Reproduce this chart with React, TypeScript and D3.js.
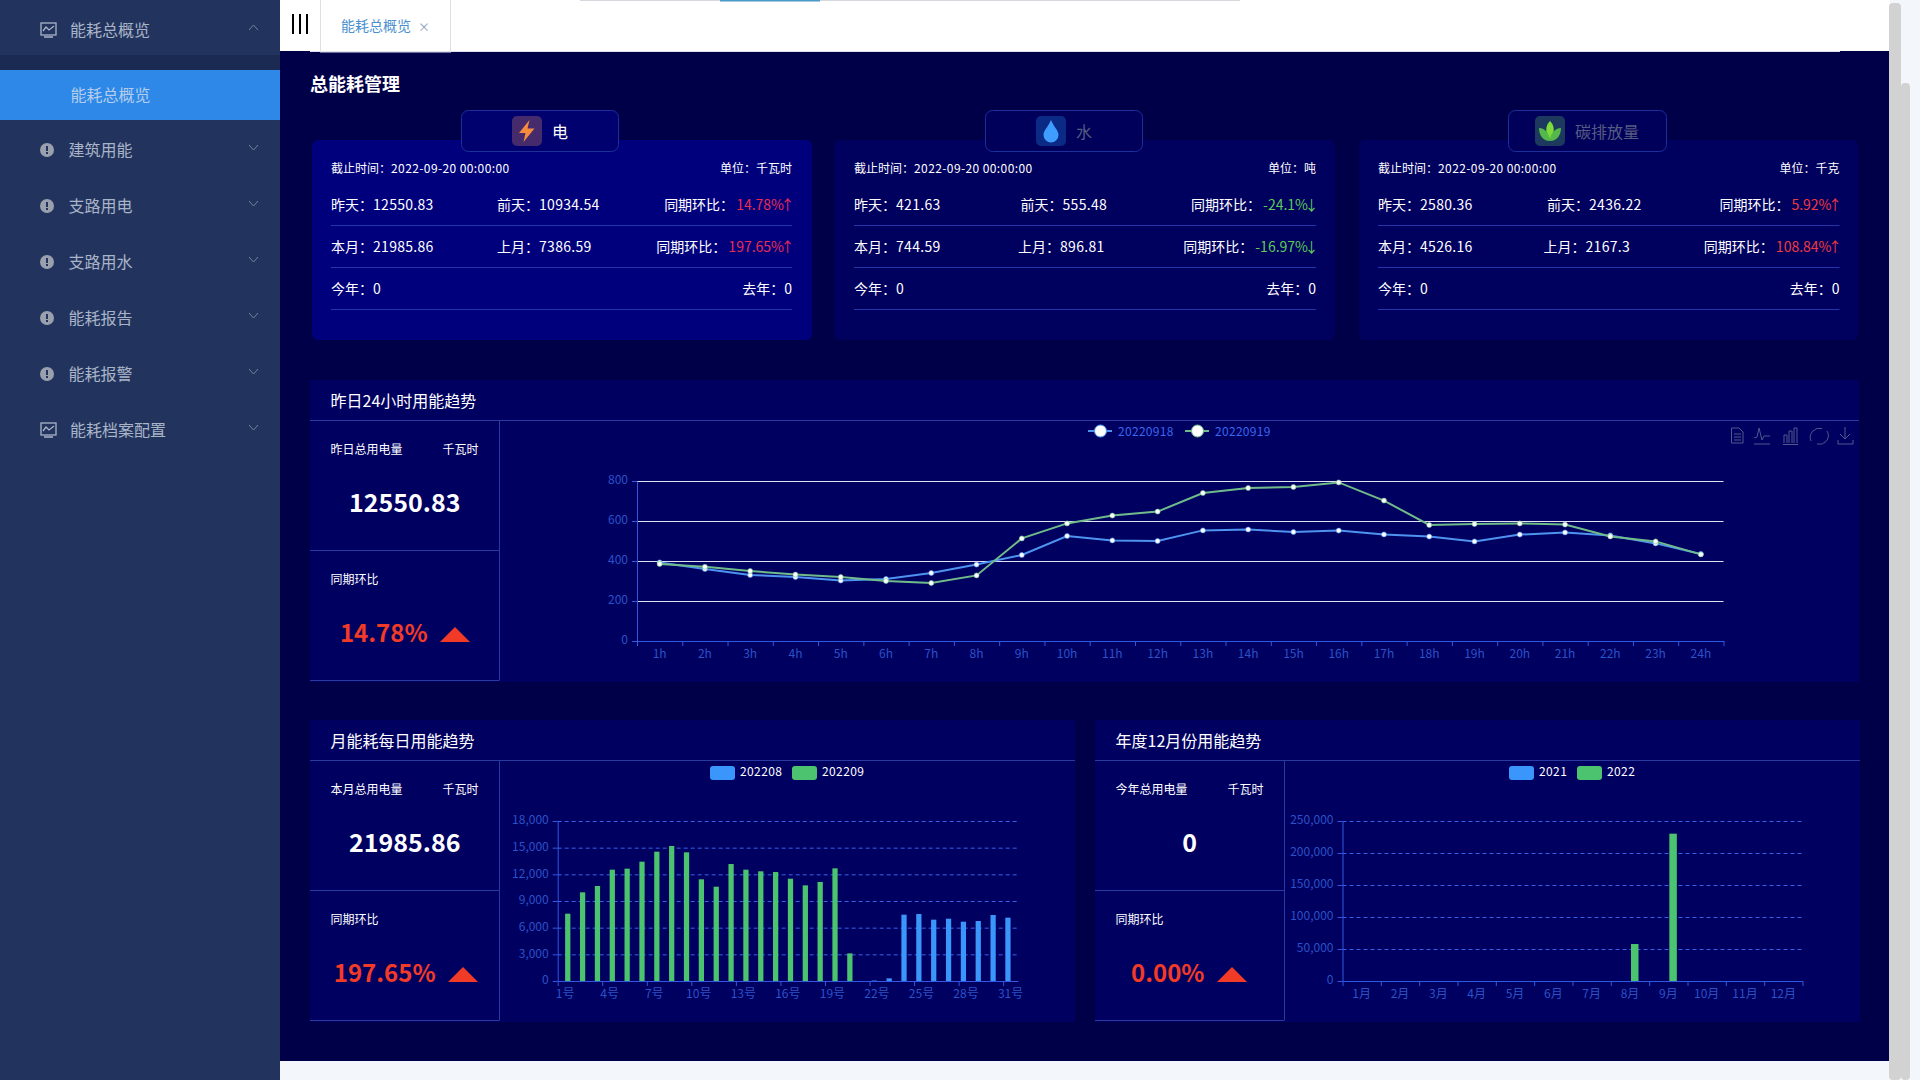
import React, { useEffect, useRef } from "react";
import * as d3 from "d3";

// sidebar
const menuItems = ["建筑用能", "支路用电", "支路用水", "能耗报告", "能耗报警"];

// top cards
const cardNames = ["电", "水", "碳排放量"];
const cardUnits = ["千瓦时", "吨", "千克"];
const deadline = "2022-09-20 00:00:00";
const yesterdayVals = ["12550.83", "421.63", "2580.36"];
const beforeVals = ["10934.54", "555.48", "2436.22"];
const dayRatios = ["14.78%", "-24.1%", "5.92%"];
const monthVals = ["21985.86", "744.59", "4526.16"];
const lastMonthVals = ["7386.59", "896.81", "2167.3"];
const monthRatios = ["197.65%", "-16.97%", "108.84%"];
const yearVals = ["0", "0", "0"];
const lastYearVals = ["0", "0", "0"];

// 24h line chart
const hours = ["1h","2h","3h","4h","5h","6h","7h","8h","9h","10h","11h","12h","13h","14h","15h","16h","17h","18h","19h","20h","21h","22h","23h","24h"];
const series0918 = [393,360,330,320,302,310,340,382,430,525,503,500,553,557,545,552,533,522,498,532,543,528,488,435];
const series0919 = [385,371,350,332,320,300,290,328,513,588,627,647,740,765,770,793,702,580,585,588,582,523,498,433];
const lineTicks = [0, 200, 400, 600, 800];

// monthly bars
const days = d3.range(1, 32).map((d) => `${d}号`);
const month202208 = [0,0,0,0,0,0,0,0,0,0,0,0,0,0,0,0,0,0,0,0,0,50,300,7460,7537,6900,7010,6675,6750,7425,7125];
const month202209 = [7575,9975,10690,12525,12640,13425,14550,15190,14475,11440,10610,13160,12525,12340,12260,11510,10760,11140,12675,3110,0,0,0,0,0,0,0,0,0,0,0];
const monthTicks = [0, 3000, 6000, 9000, 12000, 15000, 18000];

// yearly bars
const months = ["1月","2月","3月","4月","5月","6月","7月","8月","9月","10月","11月","12月"];
const year2021 = [0,0,0,0,0,0,0,0,0,0,0,0];
const year2022 = [0,0,0,0,0,0,0,57800,230200,0,0,0];
const yearTicks = [0, 50000, 100000, 150000, 200000, 250000];

const BLUE = "#3a96fa";
const GREEN = "#4cc46f";
const AXIS = "#3158e0";
const LABEL = "#2c52c8";
const RULE = "#2a3a9e";
const RED = "#f23b26";

const Txt = ({ x, y, size = 12, fill = "#fff", anchor = "start", weight = 400, ls = 0, children }: any) => (
  <text x={x} y={y - 1} fontSize={size} fill={fill} textAnchor={anchor} fontWeight={weight} letterSpacing={ls} dominantBaseline="central">
    {children}
  </text>
);

// draws left axis + bottom axis, ticks on the band edges like echarts does
function drawAxes(g: SVGGElement, x: d3.ScaleBand<string>, y: d3.ScaleLinear<number, number>, yTicks: number[], step: number, fmt: (n: number) => string) {
  const root = d3.select(g);
  root.selectAll("*").remove();
  const [x0, x1] = x.range();
  const [y0] = y.range();
  const n = x.domain().length;

  const yAxis = root.append("g").attr("transform", `translate(${x0},0)`)
    .call(d3.axisLeft(y).tickValues(yTicks).tickFormat((d) => fmt(d as number)).tickSize(5).tickPadding(4).tickSizeOuter(0));
  const edges = d3.scaleLinear().domain([0, n]).range([x0, x1]);
  const tickAxis = root.append("g").attr("transform", `translate(0,${y0})`)
    .call(d3.axisBottom(edges).tickValues(d3.range(0, n + (step === 1 ? 1 : 0), step)).tickFormat(() => "").tickSize(5).tickSizeOuter(0));
  const labels = root.append("g").attr("transform", `translate(0,${y0})`)
    .call(d3.axisBottom(x).tickValues(x.domain().filter((_, i) => i % step === 0)).tickSize(0).tickPadding(8));
  labels.select(".domain").remove();

  [yAxis, tickAxis].forEach((a) => {
    a.selectAll("path,line").attr("stroke", AXIS).attr("fill", "none");
  });
  root.selectAll("text").attr("fill", LABEL).attr("font-size", 12).attr("font-family", "'Noto Sans CJK SC'");
  yAxis.selectAll("text").attr("dy", "0.24em");
}

function LineChart() {
  const ref = useRef<SVGGElement>(null);
  const x = d3.scaleBand().domain(hours).range([637, 1723.5]);
  const y = d3.scaleLinear().domain([0, 800]).range([641, 481]);
  const cx = (h: string) => (x(h) as number) + x.bandwidth() / 2;

  useEffect(() => {
    if (ref.current) drawAxes(ref.current, x, y, lineTicks, 1, String);
  }, []);

  const gen = d3.line<number>().x((_, i) => cx(hours[i])).y((d) => y(d));
  const sets = [
    { name: "20220918", data: series0918, color: "#4f93f0", lx: 1100, tx: 1118 },
    { name: "20220919", data: series0919, color: "#6fbc8a", lx: 1197, tx: 1215 },
  ];
  return (
    <g>
      {lineTicks.slice(1).map((t) => (
        <line key={t} x1={637} x2={1723.5} y1={y(t) + 0.5} y2={y(t) + 0.5} stroke="#e0e0f0" strokeWidth={1} />
      ))}
      <g ref={ref} />
      {sets.map((s) => (
        <g key={s.name}>
          <path d={gen(s.data) as string} fill="none" stroke={s.color} strokeWidth={2} />
          {s.data.map((d, i) => (
            <circle key={i} cx={cx(hours[i])} cy={y(d)} r={2.5} fill="#fff" stroke={s.color} strokeWidth={0.6} />
          ))}
          <line x1={s.lx - 12} x2={s.lx + 12} y1={431} y2={431} stroke={s.color} strokeWidth={2} />
          <circle cx={s.lx + 0.5} cy={431} r={6} fill="#fff" stroke={s.color} strokeWidth={1} />
          <Txt x={s.tx} y={431} fill="#3a68ee" ls={0.3}>{s.name}</Txt>
        </g>
      ))}
    </g>
  );
}

function BarChart({ cats, a, b, ticks, left, right, step, barW, gap, names, legendX }: any) {
  const ref = useRef<SVGGElement>(null);
  const x = d3.scaleBand().domain(cats as string[]).range([left, right]);
  const y = d3.scaleLinear().domain([0, ticks[ticks.length - 1]]).range([981, 821]);

  useEffect(() => {
    if (ref.current) drawAxes(ref.current, x, y, ticks, step, d3.format(","));
  }, []);

  const mid = (c: string) => (x(c) as number) + x.bandwidth() / 2;
  return (
    <g>
      {ticks.slice(1).map((t: number) => (
        <line key={t} x1={left} x2={right} y1={y(t) + 0.5} y2={y(t) + 0.5} stroke="#3a5fe8" strokeDasharray="4 3" />
      ))}
      {a.map((v: number, i: number) => (
        <rect key={i} x={mid(cats[i]) - gap / 2 - barW} y={y(v)} width={barW} height={981 - y(v)} fill={BLUE} />
      ))}
      {b.map((v: number, i: number) => (
        <rect key={i} x={mid(cats[i]) + gap / 2} y={y(v)} width={barW} height={981 - y(v)} fill={GREEN} />
      ))}
      <g ref={ref} />
      {names.map((n: string, i: number) => (
        <g key={n}>
          <rect x={legendX[i]} y={766} width={25} height={14} rx={3} fill={i === 0 ? BLUE : GREEN} />
          <Txt x={legendX[i] + 30} y={771} ls={0.4}>{n}</Txt>
        </g>
      ))}
    </g>
  );
}

// panel frame with the left stat column
function Panel({ x, y, w, divider, title, statLabel, value, ratio, triX }: any) {
  const statMid = (x + divider) / 2;
  return (
    <g>
      <rect x={x} y={y} width={w} height={302} fill="#000060" rx={2} />
      <Txt x={x + 20.5} y={y + 21} size={16}>{title}</Txt>
      <line x1={x} x2={x + w} y1={y + 40.5} y2={y + 40.5} stroke={RULE} />
      <line x1={divider} x2={divider} y1={y + 40} y2={y + 300} stroke={RULE} />
      <line x1={x} x2={divider} y1={y + 170.5} y2={y + 170.5} stroke={RULE} />
      <line x1={x} x2={divider} y1={y + 300.5} y2={y + 300.5} stroke={RULE} />
      <Txt x={x + 20.5} y={y + 69}>{statLabel}</Txt>
      <Txt x={divider - 21} y={y + 69} anchor="end">千瓦时</Txt>
      <Txt x={statMid} y={y + 122} size={25} weight={700} anchor="middle">{value}</Txt>
      <Txt x={x + 20.5} y={y + 199}>同期环比</Txt>
      <Txt x={triX - 12.5} y={y + 252} size={24} weight={700} fill={RED} anchor="end">{ratio}</Txt>
      <path d={`M${triX},${y + 262} L${triX + 15},${y + 247} L${triX + 30},${y + 262} Z`} fill={RED} />
    </g>
  );
}

function CardIcon({ kind, x }: { kind: number; x: number }) {
  const bg = ["#452a6c", "#0b2a86", "#1d3a5e"][kind];
  return (
    <g transform={`translate(${x},116)`}>
      <rect width={30} height={30} rx={5} fill={bg} />
      {kind === 0 && <path d="M17.5,4 L7,17 L13.5,17 L11.5,26 L22.5,12.5 L15.5,12.5 Z" fill="#f58b3c" />}
      {kind === 1 && <path d="M15,4 C18,11 22.5,14.5 22.5,19 A7.5,7.5 0 0 1 7.5,19 C7.5,14.5 12,11 15,4 Z" fill="#3f9dff" />}
      {kind === 2 && (
        <g>
          <path d="M15,5 C20,10 20,17 15,24 C10,17 10,10 15,5 Z" fill="#7ddc3a" />
          <path d="M4,12 C10,12 15,18 15,25 C8,25 4,19 4,12 Z M26,12 C20,12 15,18 15,25 C22,25 26,19 26,12 Z" fill="#55b84a" />
        </g>
      )}
    </g>
  );
}

function Card({ i }: { i: number }) {
  const x = [312, 834, 1359][i];
  const w = [500, 501, 499][i];
  const tl = [331, 854, 1378][i];
  const tr = [792, 1316, 1839.5][i];
  const mid1 = [497, 1020.5, 1547][i];
  const mid2 = [497, 1018, 1543.5][i];
  const tabX = [461, 985, 1508][i];
  const tabW = [157, 157, 158][i];
  const iconX = [512, 1036, 1535][i];
  const up = !dayRatios[i].startsWith("-");
  const ratioColor = up ? (i === 0 ? "#ea2c52" : "#f03a40") : "#5ecb58";
  const Row = ({ y, l1, v1, l2, v2, ratio }: any) => (
    <g>
      <Txt x={tl} y={y} size={14}>{l1}：<tspan letterSpacing={0.3}>{v1}</tspan></Txt>
      <Txt x={y === 205 ? mid1 : mid2} y={y} size={14}>{l2}：<tspan letterSpacing={0.3}>{v2}</tspan></Txt>
      <text x={tr + 2.5} y={y - 1} fontSize={14} fill="#fff" textAnchor="end" dominantBaseline="central">
        同期环比：<tspan fill={ratioColor} dx={2}>{ratio}<tspan dx={-3.5}>{up ? "↑" : "↓"}</tspan></tspan>
      </text>
    </g>
  );
  return (
    <g>
      <rect x={x} y={140} width={w} height={200} rx={6} fill={i === 0 ? "#00007c" : "#00005e"} />
      <rect x={tabX + 0.5} y={110.5} width={tabW} height={41} rx={7} fill={i === 0 ? "#00006e" : "#00005a"} stroke="#1c2f9a" />
      <CardIcon kind={i} x={iconX} />
      <Txt x={iconX + 40} y={132} size={16} fill={i === 0 ? "#fff" : "#565c82"}>{cardNames[i]}</Txt>
      <Txt x={tl} y={168}>截止时间：<tspan letterSpacing={0.4}>{deadline}</tspan></Txt>
      <Txt x={tr} y={168} anchor="end">单位：{cardUnits[i]}</Txt>
      <Row y={205} l1="昨天" v1={yesterdayVals[i]} l2="前天" v2={beforeVals[i]} ratio={dayRatios[i]} />
      <Row y={247} l1="本月" v1={monthVals[i]} l2="上月" v2={lastMonthVals[i]} ratio={monthRatios[i]} />
      <Txt x={tl} y={289} size={14}>今年：{yearVals[i]}</Txt>
      <Txt x={tr} y={289} size={14} anchor="end">去年：{lastYearVals[i]}</Txt>
      {[225, 267, 309].map((ly) => (
        <line key={ly} x1={tl} x2={tr} y1={ly + 0.5} y2={ly + 0.5} stroke="#2236a8" />
      ))}
    </g>
  );
}

function Sidebar() {
  const chevron = (y: number, up: boolean) => (
    <path d={up ? `M249,${y + 3} L253.5,${y - 2} L258,${y + 3}` : `M249,${y - 2} L253.5,${y + 3} L258,${y - 2}`} fill="none" stroke="#75829f" />
  );
  const monitor = (y: number) => (
    <g fill="none" stroke="#aab4c8" strokeWidth={1.3}>
      <rect x={41} y={y - 7} width={15} height={12} />
      <path d={`M43,${y + 1} L46,${y - 3} L49,${y} L54,${y - 4} M44,${y + 7} L53,${y + 7}`} />
    </g>
  );
  return (
    <g>
      <rect x={0} y={0} width={280} height={1080} fill="#22345e" />
      <rect x={0} y={55} width={280} height={65} fill="#1b2a52" />
      <rect x={0} y={70} width={280} height={50} fill="#2d88e8" />
      {monitor(30)}
      <Txt x={70} y={30} size={16} fill="#aab4c8">能耗总概览</Txt>
      {chevron(27, true)}
      <Txt x={70.5} y={95} size={16} fill="#b4cdec">能耗总概览</Txt>
      {menuItems.map((m, i) => {
        const y = 150 + i * 56;
        return (
          <g key={m}>
            <circle cx={47} cy={y} r={7} fill="#9aa1ad" />
            <rect x={46} y={y - 4} width={2} height={5} fill="#22345e" />
            <rect x={46} y={y + 2} width={2} height={2} fill="#22345e" />
            <Txt x={68.5} y={y} size={16} fill="#aab4c8">{m}</Txt>
            {chevron(y - 3, false)}
          </g>
        );
      })}
      {monitor(430)}
      <Txt x={70} y={430} size={16} fill="#aab4c8">能耗档案配置</Txt>
      {chevron(427, false)}
    </g>
  );
}

function Toolbox() {
  const c = "#4c5a8c";
  return (
    <g fill="none" stroke={c} strokeWidth={1}>
      <path d="M1731.5,428 H1739 L1743,432 V443 H1731.5 Z M1734,434 H1741 M1734,437 H1741 M1734,440 H1741" />
      <path d="M1754,438 L1757,437 L1759,428 L1762,440 L1764,436 L1770,436 M1754,444 H1770" />
      <path d="M1784,443 V435 H1787 V443 M1789,443 V431 H1792 V443 M1794,443 V428 H1797 V443 M1783,444.5 H1798" />
      <path d="M1811,441 A9,9 0 0 1 1813,431 A9,9 0 0 1 1822,428.5 M1817,444 A9,9 0 0 0 1826,441.5 A9,9 0 0 0 1827,431" />
      <path d="M1845,427 V439 M1840,434 L1845,439 L1850,434 M1838,440 V444 H1853 V440" />
    </g>
  );
}

export default function App() {
  return (
    <svg
      width={1920}
      height={1080}
      style={{ position: "absolute", left: 0, top: 0, fontFamily: "'Noto Sans CJK SC', 'Noto Sans', sans-serif" }}
    >
      <rect width={1920} height={1080} fill="#f3f6fb" />
      <rect x={280} y={51} width={1610} height={1010} fill="#000048" />
      <rect x={280} y={0} width={1610} height={51} fill="#fff" />
      <rect x={580} y={0} width={660} height={1} fill="#d4d8dc" />
      <rect x={720} y={0} width={100} height={1.5} fill="#4a9ac8" />
      <rect x={310} y={51} width={1530} height={1} fill="#e0e0f0" />
      <Sidebar />

      {/* tab strip */}
      <g stroke="#000" strokeWidth={2}>
        {[293, 300, 307].map((lx) => (
          <line key={lx} x1={lx} x2={lx} y1={14} y2={34} />
        ))}
      </g>
      <rect x={320.5} y={-1} width={130} height={53} fill="#fff" stroke="#dcdfe6" />
      <Txt x={341} y={26} size={14} fill="#4a90d0">能耗总概览</Txt>
      <Txt x={424} y={27} size={12} fill="#8aa0b8" anchor="middle">×</Txt>
      <rect x={310} y={51} width={140} height={1} fill="#e0e0f0" />

      <Txt x={310} y={84} size={18} weight={700}>总能耗管理</Txt>

      {cardNames.map((_, i) => (
        <Card key={i} i={i} />
      ))}

      <Panel x={310} y={380} w={1549} divider={499.5} title="昨日24小时用能趋势" statLabel="昨日总用电量" value="12550.83" ratio="14.78%" triX={440} />
      <LineChart />
      <Toolbox />

      <Panel x={310} y={720} w={765} divider={499.5} title="月能耗每日用能趋势" statLabel="本月总用电量" value="21985.86" ratio="197.65%" triX={448} />
      <BarChart cats={days} a={month202208} b={month202209} ticks={monthTicks} left={557.7} right={1018} step={3} barW={5.25} gap={0} names={["202208", "202209"]} legendX={[710, 792]} />

      <Panel x={1095} y={720} w={765} divider={1284.5} title="年度12月份用能趋势" statLabel="今年总用电量" value="0" ratio="0.00%" triX={1217} />
      <BarChart cats={months} a={year2021} b={year2022} ticks={yearTicks} left={1342.5} right={1802.5} step={1} barW={7.5} gap={2} names={["2021", "2022"]} legendX={[1509, 1577]} />

      {/* page scrollbars */}
      <rect x={1889} y={3} width={12} height={1077} rx={4} fill="#d2d2d2" />
      <rect x={1901} y={83} width={9} height={997} rx={4} fill="#d2d2d2" />
    </svg>
  );
}
